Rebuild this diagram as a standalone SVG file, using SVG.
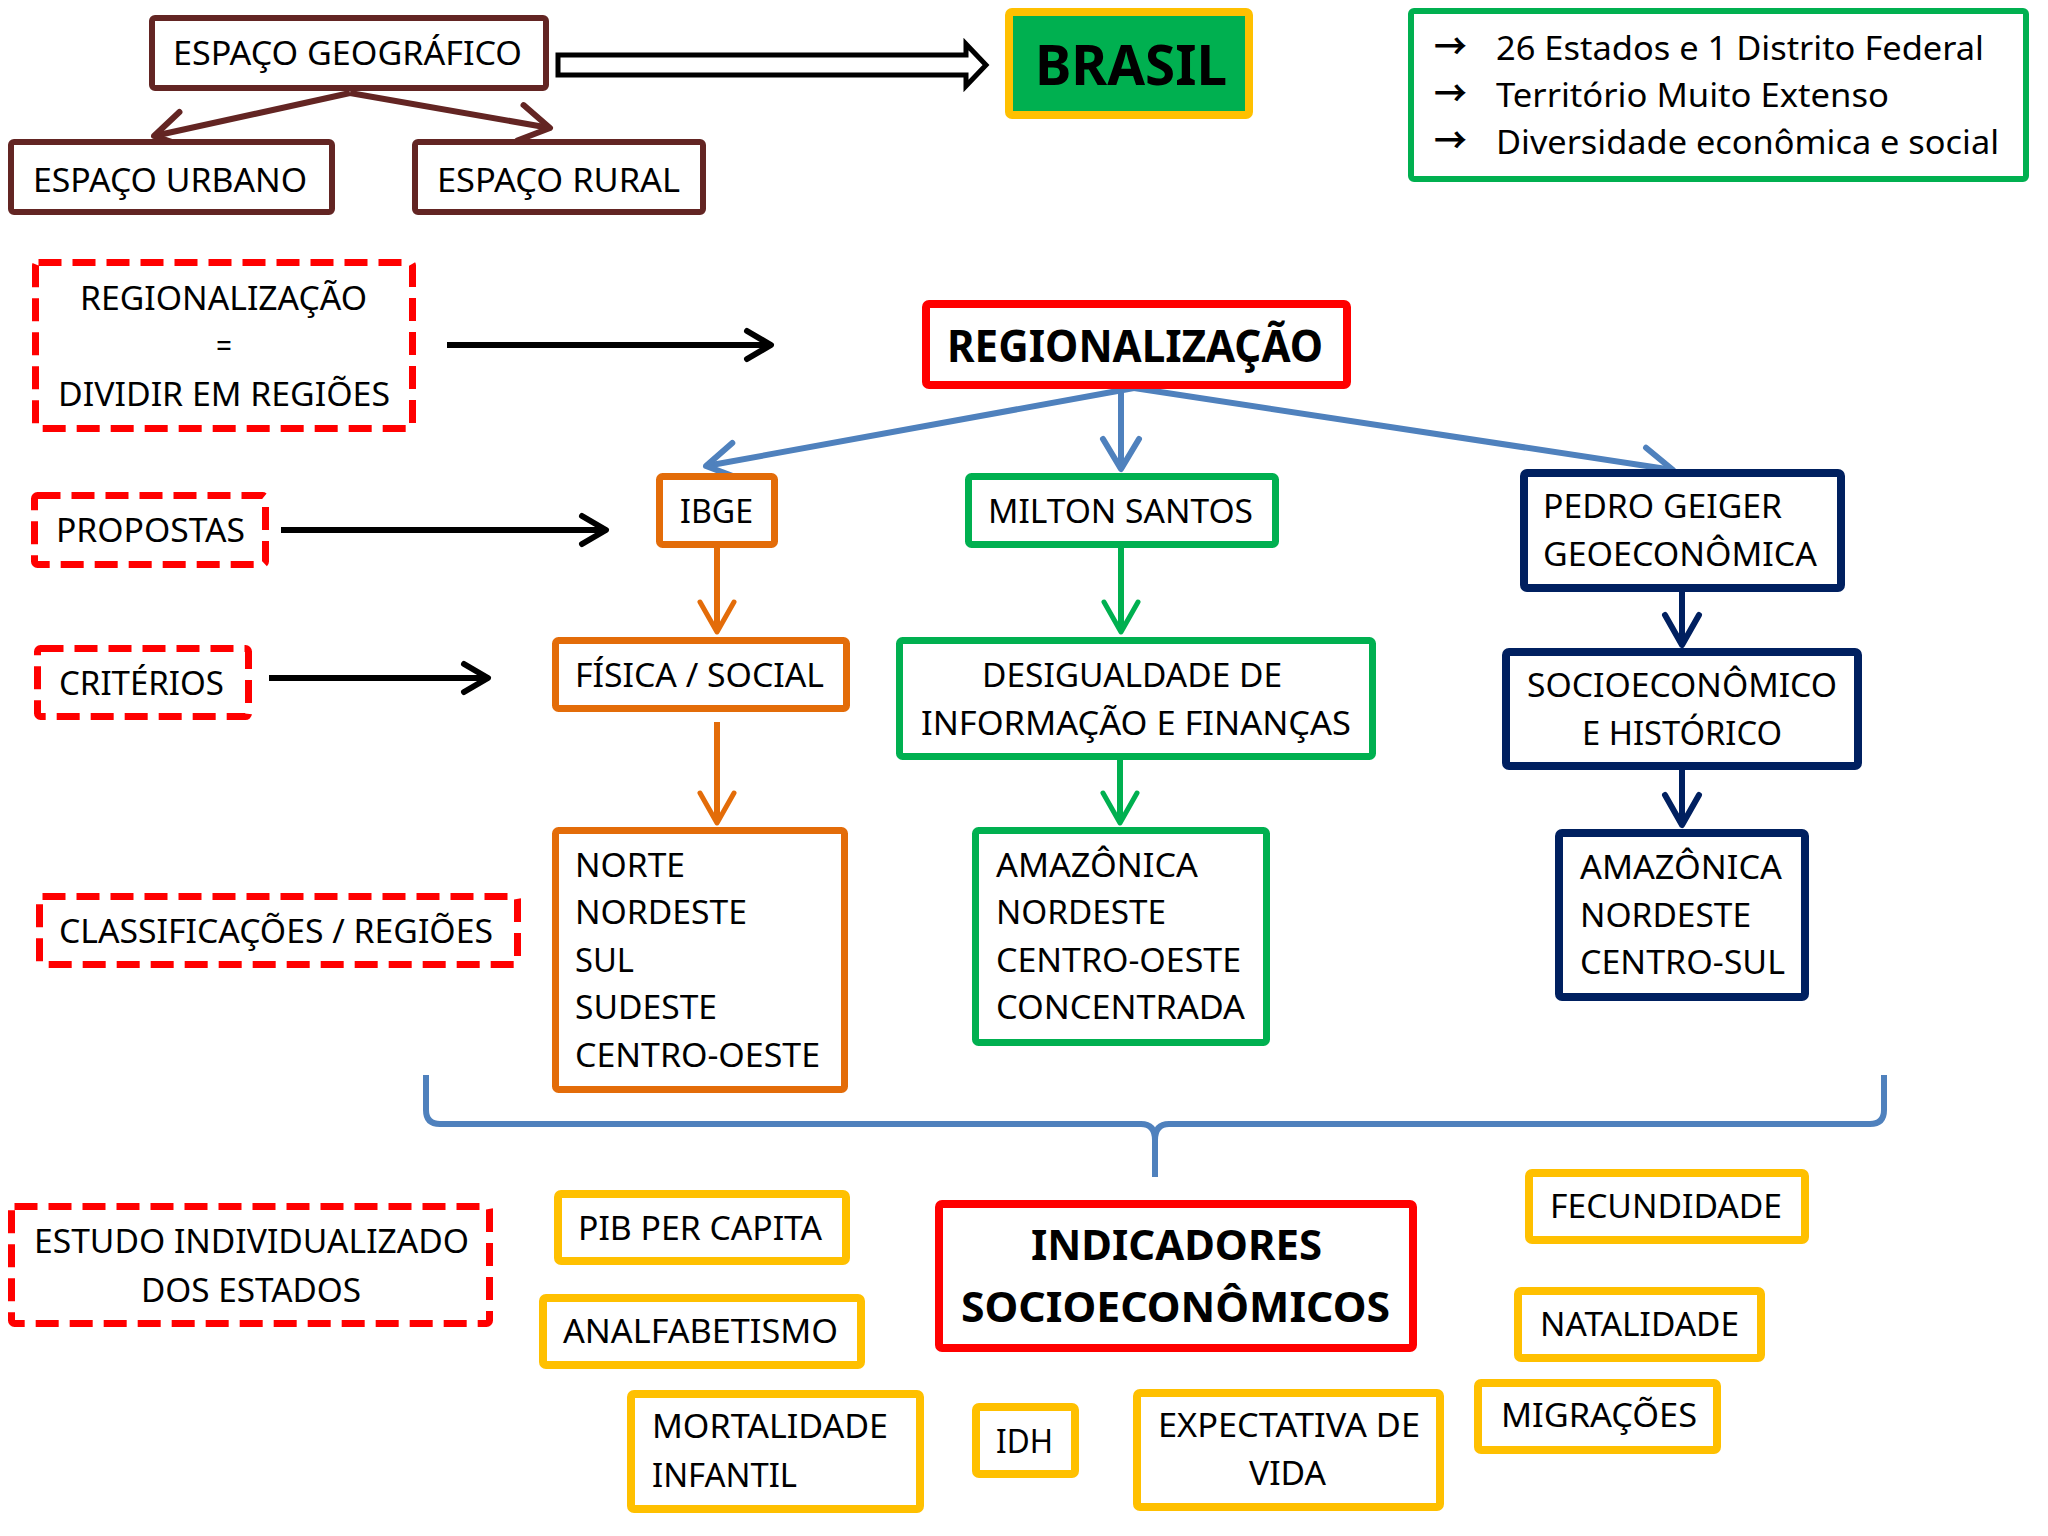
<svg xmlns="http://www.w3.org/2000/svg" width="2048" height="1536" viewBox="0 0 2048 1536">
<style>
text{font-family:"Noto Sans","Open Sans","DejaVu Sans",sans-serif;font-size:33px;fill:#000}
.b{font-weight:bold}
.arw{font-family:"Noto Sans CJK SC","DejaVu Sans",sans-serif;font-size:35px;font-weight:bold}
rect{fill:#fff;stroke-linejoin:round}
.br{stroke:#632523;stroke-width:6}
.yl{stroke:#FFC000;stroke-width:8}
.gr{stroke:#00B050;stroke-width:7}
.gr6{stroke:#00B050;stroke-width:6}
.or{stroke:#E36C09;stroke-width:7}
.nv{stroke:#002060;stroke-width:8}
.rd{stroke:#FF0000;stroke-width:8}
.dash{stroke:#FF0000;stroke-width:7;stroke-dasharray:23 11}
.c{fill:none;stroke-width:6}
</style>
<defs>
<marker id="mBr" markerUnits="userSpaceOnUse" viewBox="0 0 40 40" markerWidth="40" markerHeight="40" refX="32" refY="20" orient="auto" overflow="visible"><path d="M2,2 L32,20 L2,38" fill="none" stroke="#632523" stroke-width="6" stroke-linejoin="round" stroke-linecap="round"/></marker>
<marker id="mBk" markerUnits="userSpaceOnUse" viewBox="0 0 40 40" markerWidth="40" markerHeight="40" refX="28" refY="20" orient="auto" overflow="visible"><path d="M4,6 L28,20 L4,34" fill="none" stroke="#000" stroke-width="6" stroke-linejoin="round" stroke-linecap="round"/></marker>
<marker id="mBl" markerUnits="userSpaceOnUse" viewBox="0 0 40 40" markerWidth="40" markerHeight="40" refX="32" refY="20" orient="auto" overflow="visible"><path d="M2,2 L32,20 L2,38" fill="none" stroke="#4F81BD" stroke-width="6" stroke-linejoin="round" stroke-linecap="round"/></marker>
<marker id="mOr" markerUnits="userSpaceOnUse" viewBox="0 0 40 40" markerWidth="40" markerHeight="40" refX="32" refY="20" orient="auto" overflow="visible"><path d="M2,3 L32,20 L2,37" fill="none" stroke="#E36C09" stroke-width="5" stroke-linejoin="round" stroke-linecap="round"/></marker>
<marker id="mGr" markerUnits="userSpaceOnUse" viewBox="0 0 40 40" markerWidth="40" markerHeight="40" refX="32" refY="20" orient="auto" overflow="visible"><path d="M2,3 L32,20 L2,37" fill="none" stroke="#00B050" stroke-width="5" stroke-linejoin="round" stroke-linecap="round"/></marker>
<marker id="mNv" markerUnits="userSpaceOnUse" viewBox="0 0 40 40" markerWidth="40" markerHeight="40" refX="32" refY="20" orient="auto" overflow="visible"><path d="M2,3 L32,20 L2,37" fill="none" stroke="#002060" stroke-width="6" stroke-linejoin="round" stroke-linecap="round"/></marker>
</defs>
<rect x="0" y="0" width="2048" height="1536" style="fill:#fff;stroke:none"/>

<g id="connectors">
<path class="c" d="M350,93 L154,136" stroke="#632523" marker-end="url(#mBr)"/>
<path class="c" d="M350,93 L550,128" stroke="#632523" marker-end="url(#mBr)"/>
<polygon points="558,55 966,55 966,44 986,65 966,86 966,75 558,75" fill="#fff" stroke="#000" stroke-width="5" stroke-linejoin="miter"/>
<path class="c" d="M447,345 L771,345" stroke="#000" marker-end="url(#mBk)"/>
<path class="c" d="M281,530 L606,530" stroke="#000" marker-end="url(#mBk)"/>
<path class="c" d="M269,678 L488,678" stroke="#000" marker-end="url(#mBk)"/>
<path class="c" d="M1134,388 L706,466" stroke="#4F81BD" marker-end="url(#mBl)"/>
<path class="c" d="M1121,388 L1121,469" stroke="#4F81BD" marker-end="url(#mBl)"/>
<path class="c" d="M1134,388 L1673,470" stroke="#4F81BD" marker-end="url(#mBl)"/>
<path class="c" d="M717,548 L717,632" stroke="#E36C09" stroke-width="5" marker-end="url(#mOr)"/>
<path class="c" d="M717,722 L717,823" stroke="#E36C09" stroke-width="5" marker-end="url(#mOr)"/>
<path class="c" d="M1121,548 L1121,632" stroke="#00B050" stroke-width="5" marker-end="url(#mGr)"/>
<path class="c" d="M1120,760 L1120,823" stroke="#00B050" stroke-width="5" marker-end="url(#mGr)"/>
<path class="c" d="M1682,592 L1682,645" stroke="#002060" marker-end="url(#mNv)"/>
<path class="c" d="M1682,770 L1682,825" stroke="#002060" marker-end="url(#mNv)"/>
<path class="c" d="M426,1075 L426,1110 Q426,1124 440,1124 L1141,1124 Q1155,1124 1155,1140 L1155,1177 M1155,1140 Q1155,1124 1169,1124 L1870,1124 Q1884,1124 1884,1110 L1884,1075" stroke="#4F81BD" stroke-width="5"/>
</g>

<g id="espaco-geografico"><rect class="br" x="152" y="18" width="394" height="70" rx="3"/><text x="173" y="65" textLength="349" lengthAdjust="spacingAndGlyphs">ESPAÇO GEOGRÁFICO</text></g>
<g id="espaco-urbano"><rect class="br" x="11" y="142" width="321" height="70" rx="3"/><text x="33" y="192" textLength="274" lengthAdjust="spacingAndGlyphs">ESPAÇO URBANO</text></g>
<g id="espaco-rural"><rect class="br" x="415" y="142" width="288" height="70" rx="3"/><text x="437" y="192" textLength="243" lengthAdjust="spacingAndGlyphs">ESPAÇO RURAL</text></g>
<g id="brasil"><rect x="1009" y="12" width="240" height="103" rx="3" style="fill:#00B050;stroke:#FFC000;stroke-width:8"/><text class="b" x="1035" y="85" style="font-size:56px" textLength="192" lengthAdjust="spacingAndGlyphs">BRASIL</text></g>
<g id="brasil-info"><rect class="gr6" x="1411" y="11" width="615" height="168" rx="3"/>
<text class="arw" x="1434" y="59" textLength="33" lengthAdjust="spacingAndGlyphs">→</text><text x="1496" y="60" textLength="488" lengthAdjust="spacingAndGlyphs">26 Estados e 1 Distrito Federal</text>
<text class="arw" x="1434" y="106" textLength="33" lengthAdjust="spacingAndGlyphs">→</text><text x="1496" y="107" textLength="393" lengthAdjust="spacingAndGlyphs">Território Muito Extenso</text>
<text class="arw" x="1434" y="153" textLength="33" lengthAdjust="spacingAndGlyphs">→</text><text x="1496" y="154" textLength="503" lengthAdjust="spacingAndGlyphs">Diversidade econômica e social</text></g>

<g id="regionalizacao-def"><rect class="dash" x="35.5" y="262.5" width="377" height="166" rx="3" style="fill:none"/>
<text x="80" y="310" textLength="287" lengthAdjust="spacingAndGlyphs">REGIONALIZAÇÃO</text>
<text x="216" y="357" textLength="16" lengthAdjust="spacingAndGlyphs">=</text>
<text x="58" y="406" textLength="332" lengthAdjust="spacingAndGlyphs">DIVIDIR EM REGIÕES</text></g>
<g id="propostas"><rect class="dash" x="34.5" y="495.5" width="231" height="69" rx="3" style="fill:none"/><text x="56" y="542" textLength="189" lengthAdjust="spacingAndGlyphs">PROPOSTAS</text></g>
<g id="criterios"><rect class="dash" x="37.5" y="648.5" width="211" height="68" rx="3" style="fill:none"/><text x="59" y="695" textLength="165" lengthAdjust="spacingAndGlyphs">CRITÉRIOS</text></g>
<g id="classificacoes"><rect class="dash" x="39.5" y="896.5" width="478" height="68" rx="3" style="fill:none"/><text x="59" y="943" textLength="434" lengthAdjust="spacingAndGlyphs">CLASSIFICAÇÕES / REGIÕES</text></g>
<g id="estudo"><rect class="dash" x="11.5" y="1206.5" width="478" height="117" rx="3" style="fill:none"/><text x="34" y="1253" textLength="435" lengthAdjust="spacingAndGlyphs">ESTUDO INDIVIDUALIZADO</text><text x="141" y="1302" textLength="220" lengthAdjust="spacingAndGlyphs">DOS ESTADOS</text></g>

<g id="regionalizacao"><rect class="rd" x="926" y="304" width="421" height="81" rx="3"/><text class="b" x="947" y="362" style="font-size:45px" textLength="376" lengthAdjust="spacingAndGlyphs">REGIONALIZAÇÃO</text></g>
<g id="ibge"><rect class="or" x="659.5" y="476.5" width="115" height="68" rx="3"/><text x="680" y="523" textLength="73" lengthAdjust="spacingAndGlyphs">IBGE</text></g>
<g id="milton"><rect class="gr" x="968.5" y="476.5" width="307" height="68" rx="3"/><text x="988" y="523" textLength="265" lengthAdjust="spacingAndGlyphs">MILTON SANTOS</text></g>
<g id="pedro"><rect class="nv" x="1524" y="473" width="317" height="115" rx="3"/><text x="1543" y="518" textLength="239" lengthAdjust="spacingAndGlyphs">PEDRO GEIGER</text><text x="1543" y="566" textLength="274" lengthAdjust="spacingAndGlyphs">GEOECONÔMICA</text></g>
<g id="fisica"><rect class="or" x="555.5" y="640.5" width="291" height="68" rx="3"/><text x="575" y="687" textLength="249" lengthAdjust="spacingAndGlyphs">FÍSICA / SOCIAL</text></g>
<g id="desigualdade"><rect class="gr" x="899.5" y="640.5" width="473" height="116" rx="3"/><text x="982" y="687" textLength="300" lengthAdjust="spacingAndGlyphs">DESIGUALDADE DE</text><text x="921" y="735" textLength="430" lengthAdjust="spacingAndGlyphs">INFORMAÇÃO E FINANÇAS</text></g>
<g id="socioeconomico"><rect class="nv" x="1506" y="652" width="352" height="114" rx="3"/><text x="1527" y="697" textLength="310" lengthAdjust="spacingAndGlyphs">SOCIOECONÔMICO</text><text x="1582" y="745" textLength="200" lengthAdjust="spacingAndGlyphs">E HISTÓRICO</text></g>
<g id="regioes-ibge"><rect class="or" x="555.5" y="830.5" width="289" height="259" rx="3"/>
<text x="575" y="877" textLength="110" lengthAdjust="spacingAndGlyphs">NORTE</text>
<text x="575" y="924" textLength="172" lengthAdjust="spacingAndGlyphs">NORDESTE</text>
<text x="575" y="972" textLength="59" lengthAdjust="spacingAndGlyphs">SUL</text>
<text x="575" y="1019" textLength="142" lengthAdjust="spacingAndGlyphs">SUDESTE</text>
<text x="575" y="1067" textLength="245" lengthAdjust="spacingAndGlyphs">CENTRO-OESTE</text></g>
<g id="regioes-milton"><rect class="gr" x="975.5" y="830.5" width="291" height="212" rx="3"/>
<text x="996" y="877" textLength="202" lengthAdjust="spacingAndGlyphs">AMAZÔNICA</text>
<text x="996" y="924" textLength="170" lengthAdjust="spacingAndGlyphs">NORDESTE</text>
<text x="996" y="972" textLength="245" lengthAdjust="spacingAndGlyphs">CENTRO-OESTE</text>
<text x="996" y="1019" textLength="249" lengthAdjust="spacingAndGlyphs">CONCENTRADA</text></g>
<g id="regioes-geiger"><rect class="nv" x="1559" y="833" width="246" height="164" rx="3"/>
<text x="1580" y="879" textLength="202" lengthAdjust="spacingAndGlyphs">AMAZÔNICA</text>
<text x="1580" y="927" textLength="171" lengthAdjust="spacingAndGlyphs">NORDESTE</text>
<text x="1580" y="974" textLength="205" lengthAdjust="spacingAndGlyphs">CENTRO-SUL</text></g>

<g id="indicadores"><rect class="rd" x="939" y="1204" width="474" height="144" rx="3"/><text class="b" x="1031" y="1260" style="font-size:42px" textLength="291" lengthAdjust="spacingAndGlyphs">INDICADORES</text><text class="b" x="961" y="1322" style="font-size:42px" textLength="429" lengthAdjust="spacingAndGlyphs">SOCIOECONÔMICOS</text></g>
<g id="pib"><rect class="yl" x="558" y="1194" width="288" height="67" rx="3"/><text x="578" y="1240" textLength="244" lengthAdjust="spacingAndGlyphs">PIB PER CAPITA</text></g>
<g id="analfabetismo"><rect class="yl" x="543" y="1298" width="318" height="67" rx="3"/><text x="563" y="1343" textLength="275" lengthAdjust="spacingAndGlyphs">ANALFABETISMO</text></g>
<g id="mortalidade"><rect class="yl" x="631" y="1394" width="289" height="115" rx="3"/><text x="652" y="1438" textLength="236" lengthAdjust="spacingAndGlyphs">MORTALIDADE</text><text x="652" y="1487" textLength="145" lengthAdjust="spacingAndGlyphs">INFANTIL</text></g>
<g id="idh"><rect class="yl" x="976" y="1407" width="99" height="67" rx="3"/><text x="996" y="1453" textLength="57" lengthAdjust="spacingAndGlyphs">IDH</text></g>
<g id="expectativa"><rect class="yl" x="1137" y="1393" width="303" height="114" rx="3"/><text x="1158" y="1437" textLength="262" lengthAdjust="spacingAndGlyphs">EXPECTATIVA DE</text><text x="1249" y="1485" textLength="77" lengthAdjust="spacingAndGlyphs">VIDA</text></g>
<g id="fecundidade"><rect class="yl" x="1529" y="1173" width="276" height="67" rx="3"/><text x="1550" y="1218" textLength="232" lengthAdjust="spacingAndGlyphs">FECUNDIDADE</text></g>
<g id="natalidade"><rect class="yl" x="1518" y="1291" width="243" height="67" rx="3"/><text x="1540" y="1336" textLength="199" lengthAdjust="spacingAndGlyphs">NATALIDADE</text></g>
<g id="migracoes"><rect class="yl" x="1478" y="1383" width="239" height="67" rx="3"/><text x="1501" y="1427" textLength="196" lengthAdjust="spacingAndGlyphs">MIGRAÇÕES</text></g>
</svg>
